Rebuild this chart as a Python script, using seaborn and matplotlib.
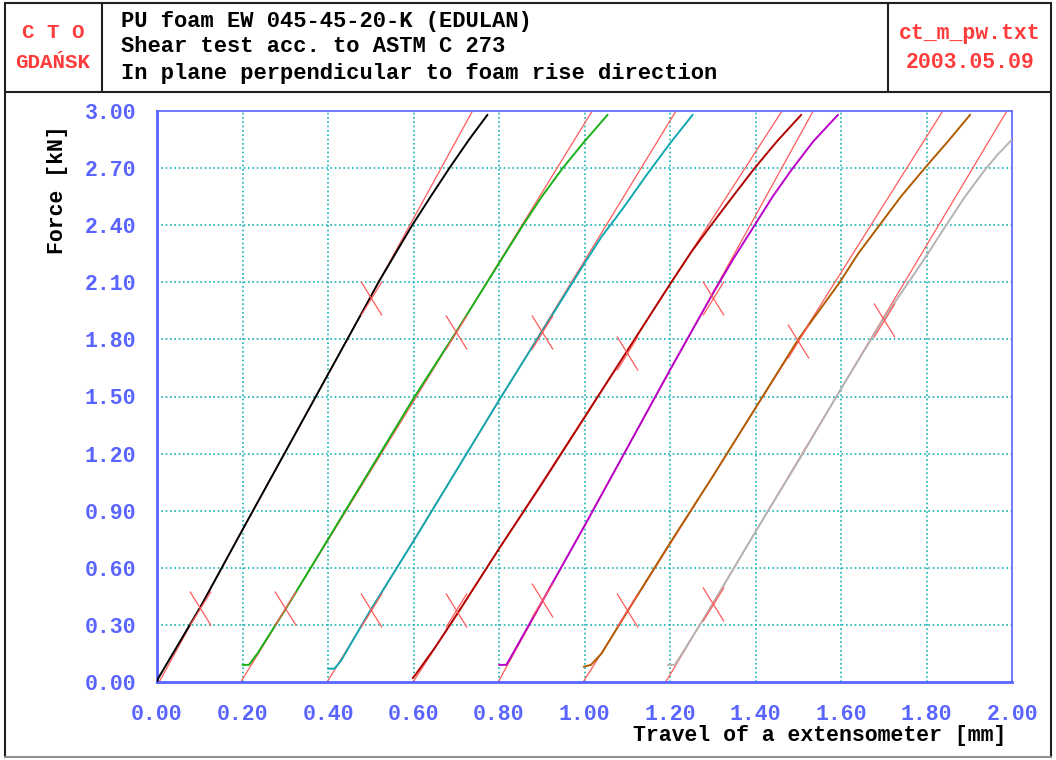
import numpy as np
import pandas as pd
import matplotlib
matplotlib.use("Agg")
import matplotlib.pyplot as plt
from matplotlib.path import Path
from matplotlib.lines import Line2D
import seaborn as sns

# ---------------- data ----------------
curve_names = ["s1", "s2", "s3", "s4", "s5", "s6", "s7"]
curve_colors = ["#000000", "#18b018", "#10a8b0", "#b00000", "#b800c8", "#b05c00", "#b4b4b4"]

s1_x = [0.000, 0.003, 0.103, 0.200, 0.298, 0.396, 0.494, 0.518, 0.597, 0.640, 0.684, 0.730, 0.773]
s1_f = [0.00, 0.02, 0.40, 0.80, 1.20, 1.60, 2.00, 2.10, 2.40, 2.55, 2.70, 2.85, 2.98]

s2_x = [0.200, 0.215, 0.235, 0.300, 0.400, 0.500, 0.600, 0.700, 0.800, 0.856, 0.900, 0.949, 1.000, 1.054]
s2_f = [0.09, 0.09, 0.15, 0.38, 0.75, 1.12, 1.49, 1.84, 2.20, 2.40, 2.55, 2.70, 2.84, 2.98]

s3_x = [0.400, 0.415, 0.430, 0.500, 0.600, 0.700, 0.800, 0.900, 1.000, 1.040, 1.074, 1.100, 1.144, 1.200, 1.253]
s3_f = [0.07, 0.07, 0.11, 0.38, 0.74, 1.11, 1.48, 1.84, 2.20, 2.34, 2.44, 2.52, 2.66, 2.83, 2.98]

s4_x = [0.598, 0.605, 0.650, 0.700, 0.800, 0.900, 1.000, 1.100, 1.200, 1.250, 1.296, 1.350, 1.398, 1.450, 1.507]
s4_f = [0.02, 0.04, 0.18, 0.35, 0.70, 1.04, 1.39, 1.74, 2.09, 2.26, 2.40, 2.56, 2.70, 2.84, 2.98]

s5_x = [0.800, 0.817, 0.825, 0.900, 1.000, 1.100, 1.200, 1.300, 1.350, 1.398, 1.440, 1.484, 1.535, 1.593]
s5_f = [0.09, 0.09, 0.12, 0.42, 0.82, 1.23, 1.64, 2.04, 2.23, 2.40, 2.55, 2.69, 2.84, 2.98]

s6_x = [0.998, 1.015, 1.040, 1.100, 1.200, 1.300, 1.400, 1.500, 1.597, 1.640, 1.690, 1.740, 1.796, 1.850, 1.902]
s6_f = [0.08, 0.09, 0.15, 0.37, 0.73, 1.08, 1.44, 1.80, 2.10, 2.25, 2.40, 2.55, 2.70, 2.84, 2.98]

s7_x = [1.195, 1.211, 1.220, 1.300, 1.400, 1.500, 1.600, 1.700, 1.764, 1.800, 1.846, 1.890, 1.933, 1.966, 2.000]
s7_f = [0.09, 0.09, 0.12, 0.41, 0.79, 1.16, 1.54, 1.91, 2.12, 2.24, 2.40, 2.55, 2.68, 2.77, 2.85]

curves_x = [s1_x, s2_x, s3_x, s4_x, s5_x, s6_x, s7_x]
curves_f = [s1_f, s2_f, s3_f, s4_f, s5_f, s6_f, s7_f]

# fitted straight lines (start at F=0, end at F=3)
fit_x0 = [0.005, 0.196, 0.398, 0.599, 0.798, 0.997, 1.190]
fit_x1 = [0.738, 1.018, 1.214, 1.462, 1.535, 1.838, 1.988]
fit_f0 = 0.0
fit_f1 = 3.0

# X marks
mark_lo_x = [0.10, 0.30, 0.50, 0.70, 0.90, 1.10, 1.30]
mark_lo_f = [0.39, 0.39, 0.38, 0.38, 0.43, 0.38, 0.41]
mark_hi_x = [0.50, 0.70, 0.90, 1.10, 1.30, 1.50, 1.70]
mark_hi_f = [2.02, 1.84, 1.84, 1.73, 2.02, 1.79, 1.90]

x_ticks = [0.00, 0.20, 0.40, 0.60, 0.80, 1.00, 1.20, 1.40, 1.60, 1.80, 2.00]
y_ticks = [0.00, 0.30, 0.60, 0.90, 1.20, 1.50, 1.80, 2.10, 2.40, 2.70, 3.00]

header_left = ["C T O", "GDAŃSK"]
header_mid = ["PU foam EW 045-45-20-K (EDULAN)",
              "Shear test acc. to ASTM C 273",
              "In plane perpendicular to foam rise direction"]
header_right = ["ct_m_pw.txt", "2003.05.09"]
x_label = "Travel of a extensometer [mm]"
y_label = "Force [kN]"

# ---------------- styling ----------------
sns.set_style("white")
plt.rcParams["font.family"] = ["Liberation Mono", "DejaVu Sans Mono", "DejaVu Sans"]

W, H = 1056, 760
fig = plt.figure(figsize=(W / 100, H / 100), dpi=100)

def fx(px):
    return px / W

def fy(py):
    return 1 - py / H

ax_l, ax_r, ax_t, ax_b = 157, 1012, 111, 682
ax = fig.add_axes([fx(ax_l), fy(ax_b), fx(ax_r - ax_l), (ax_b - ax_t) / H])

rows = []
for name, xs, fs in zip(curve_names, curves_x, curves_f):
    for i, (xv, fv) in enumerate(zip(xs, fs)):
        rows.append({"curve": name, "order": i, "x": xv, "F": fv})
df_curves = pd.DataFrame(rows)

fit_rows = []
for name, a, b in zip(curve_names, fit_x0, fit_x1):
    fit_rows.append({"curve": name, "order": 0, "x": a, "F": fit_f0})
    fit_rows.append({"curve": name, "order": 1, "x": b, "F": fit_f1})
df_fit = pd.DataFrame(fit_rows)

grid_col = "#17b4b4"
blue = "#5a64ff"
red_fit = "#ff5a5a"

for v in x_ticks[1:-1]:
    ax.axvline(v, color=grid_col, lw=1.2, ls=(0, (1, 1.6)), zorder=0)
for v in y_ticks[1:-1]:
    ax.axhline(v, color=grid_col, lw=1.2, ls=(0, (1, 1.6)), zorder=0)

sns.lineplot(data=df_fit, x="x", y="F", hue="curve", units="curve", estimator=None,
             sort=False, palette=[red_fit] * 7, lw=0.9, legend=False, ax=ax, zorder=2)
sns.lineplot(data=df_curves, x="x", y="F", hue="curve", units="curve", estimator=None,
             sort=False, palette=curve_colors, lw=1.4, legend=False, ax=ax, zorder=3)

xmark = Path([(-0.62, -1), (0.62, 1), (-0.62, 1), (0.62, -1)],
             [Path.MOVETO, Path.LINETO, Path.MOVETO, Path.LINETO])
ax.plot(mark_lo_x, mark_lo_f, ls="none", marker=xmark, ms=24.5, mfc="none",
        mec=red_fit, mew=0.9, zorder=4)
ax.plot(mark_hi_x, mark_hi_f, ls="none", marker=xmark, ms=24.5, mfc="none",
        mec=red_fit, mew=0.9, zorder=4)

ax.set_xlim(0, 2.0)
ax.set_ylim(0, 3.0)
ax.set_xticks(x_ticks)
ax.set_yticks(y_ticks)
ax.set_xticklabels([f"{v:.2f}" for v in x_ticks])
ax.set_yticklabels([f"{v:.2f}" for v in y_ticks])
ax.set_xlabel("")
ax.set_ylabel("")
for sp in ax.spines.values():
    sp.set_color(blue)
    sp.set_linewidth(1.2)
ax.spines["left"].set_linewidth(2)
ax.spines["bottom"].set_linewidth(2)
ax.tick_params(axis="both", direction="out", length=7, width=2, color=blue,
               labelcolor=blue, labelsize=15.5)
ax.tick_params(axis="y", pad=8)
ax.tick_params(axis="x", pad=9)
for lab in ax.get_xticklabels() + ax.get_yticklabels():
    lab.set_fontweight("bold")

fig.text(fx(1006), fy(735), x_label, ha="right", va="center", fontsize=15.5,
         fontweight="bold", color="black")
fig.text(fx(57), fy(190), y_label, ha="center", va="center", rotation=90,
         fontsize=15.5, fontweight="bold", color="black")

frame_col = "#202020"
def fline(x0, y0, x1, y1, c=frame_col, lw=1.5):
    fig.add_artist(Line2D([fx(x0), fx(x1)], [fy(y0), fy(y1)], color=c, lw=lw))

fline(5, 3, 1051, 3)
fline(5, 3, 5, 757)
fline(1051, 3, 1051, 757)
fline(5, 757, 1051, 757, c="#909090")
fline(5, 92, 1051, 92)
fline(102, 3, 102, 92)
fline(888, 3, 888, 92)

hred = "#ff3c3c"
fig.text(fx(53), fy(33), header_left[0], ha="center", va="center", color=hred,
         fontsize=15, fontweight="bold")
fig.text(fx(53), fy(62), header_left[1], ha="center", va="center", color=hred,
         fontsize=15, fontweight="bold")
for txt, py in zip(header_mid, [21, 46, 73]):
    fig.text(fx(121), fy(py), txt, ha="left", va="center", color="black",
             fontsize=15.9, fontweight="bold")
fig.text(fx(970), fy(33), header_right[0], ha="center", va="center", color=hred,
         fontsize=15.5, fontweight="bold")
fig.text(fx(970), fy(62), header_right[1], ha="center", va="center", color=hred,
         fontsize=15.5, fontweight="bold")

fig.savefig("out.png", dpi=100, facecolor="white")
